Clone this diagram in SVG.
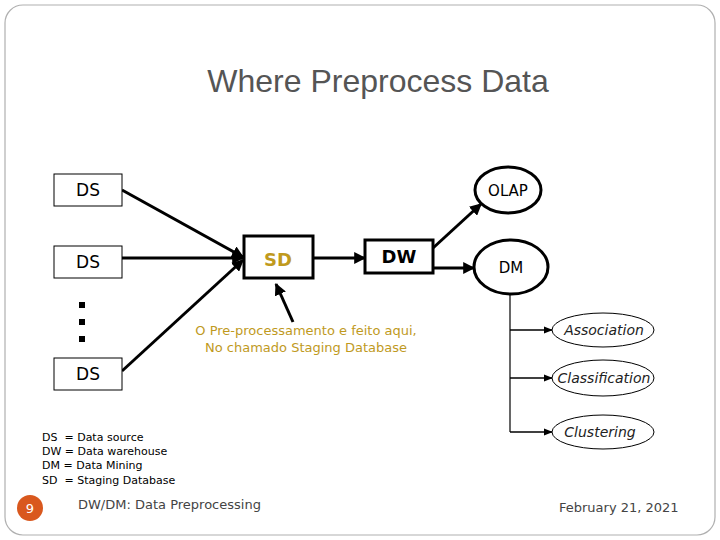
<svg xmlns="http://www.w3.org/2000/svg" width="720" height="540" viewBox="0 0 720 540">
<defs>
<marker id="ah" viewBox="0 0 10 10" refX="9" refY="5" markerWidth="4" markerHeight="4" orient="auto"><path d="M0,0L10,5L0,10z" fill="#000"/></marker>
<marker id="ahs" viewBox="0 0 10 10" refX="9" refY="5" markerWidth="6" markerHeight="6" orient="auto"><path d="M0,1L10,5L0,9z" fill="#000"/></marker>
</defs>
<style>
text{font-family:"DejaVu Sans","Liberation Sans",sans-serif}
.box{fill:#fff;stroke:#000;stroke-width:1}
.bold{fill:#fff;stroke:#000;stroke-width:3}
.ds{font-size:17px;text-anchor:middle}
.e{stroke:#000;stroke-width:3;fill:none;marker-end:url(#ah)}
.t{stroke:#000;stroke-width:1.5;fill:none;marker-end:url(#ahs)}
.it{font-size:14px;font-style:italic;text-anchor:middle;fill:#222}
.leg{font-size:11px}
</style>
<rect x="5" y="5" width="710" height="530" rx="18" fill="#fff" stroke="#b0b0b0" stroke-width="1.2"/>
<text x="378" y="92" font-size="32" text-anchor="middle" fill="#555" style="font-family:'Liberation Sans',sans-serif">Where Preprocess Data</text>
<g id="connectors">
<path class="e" d="M122,190L243,257"/>
<path class="e" d="M122,258L243,258"/>
<path class="e" d="M122,371L243,260"/>
<path class="e" d="M313,258L365,258"/>
<path class="e" d="M433,248L481,204"/>
<path class="e" d="M433,268L474,268"/>
<path class="e" d="M293,322L276,284"/>
<path d="M510,294V432" stroke="#000" stroke-width="1.2"/>
<path class="t" d="M510,330H552"/>
<path class="t" d="M510,378H552"/>
<path class="t" d="M510,432H552"/>
</g>
<g id="ds1"><rect class="box" x="54" y="174" width="68" height="32"/><text class="ds" x="88" y="196">DS</text></g>
<g id="ds2"><rect class="box" x="54" y="246" width="68" height="32"/><text class="ds" x="88" y="268">DS</text></g>
<g id="dots"><rect x="79" y="302" width="6" height="6"/><rect x="79" y="319" width="6" height="6"/><rect x="79" y="336" width="6" height="6"/></g>
<g id="ds3"><rect class="box" x="54" y="358" width="68" height="32"/><text class="ds" x="88" y="380">DS</text></g>
<g id="sd"><rect class="bold" x="244" y="236" width="69" height="42"/><text x="278" y="266" font-size="18" font-weight="bold" text-anchor="middle" fill="#C09A1E">SD</text></g>
<g id="dw"><rect class="bold" x="365" y="240" width="68" height="33"/><text x="399" y="263" font-size="18" font-weight="bold" text-anchor="middle">DW</text></g>
<g id="olap"><ellipse class="bold" cx="508" cy="190" rx="33" ry="23"/><text x="508" y="196" font-size="15" text-anchor="middle">OLAP</text></g>
<g id="dm"><ellipse class="bold" cx="511" cy="267" rx="37" ry="27"/><text x="511" y="273" font-size="15" text-anchor="middle">DM</text></g>
<g id="association"><ellipse class="box" cx="603" cy="330" rx="51" ry="17"/><text class="it" x="604" y="335">Association</text></g>
<g id="classification"><ellipse class="box" cx="603" cy="378" rx="51" ry="18"/><text class="it" x="604" y="383">Classification</text></g>
<g id="clustering"><ellipse class="box" cx="603" cy="432" rx="51" ry="17"/><text class="it" x="600" y="437">Clustering</text></g>
<g id="note" font-size="13" fill="#C09A1E" text-anchor="middle"><text x="306" y="335">O Pre-processamento e feito aqui,</text><text x="306" y="352">No chamado Staging Database</text></g>
<g id="legend" class="leg"><text x="42" y="441" xml:space="preserve">DS  = Data source</text><text x="42" y="455">DW = Data warehouse</text><text x="42" y="469">DM = Data Mining</text><text x="42" y="484" xml:space="preserve">SD  = Staging Database</text></g>
<circle cx="30" cy="508" r="13" fill="#D9581E"/><text x="30" y="513" font-size="13" fill="#fff" text-anchor="middle">9</text>
<text x="78" y="509" font-size="13" fill="#444">DW/DM: Data Preprocessing</text>
<text x="559" y="512" font-size="13" fill="#444">February 21, 2021</text>
</svg>
